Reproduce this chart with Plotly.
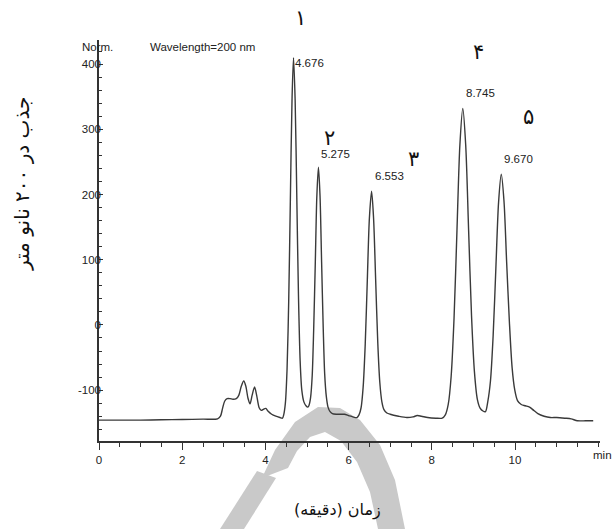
import plotly.graph_objects as go

# ---------------- data ----------------
time_min = [
    0.0, 0.5, 1.0, 1.5, 2.0, 2.5, 2.85, 2.92, 2.97, 3.02, 3.08, 3.15, 3.22, 3.3,
    3.36, 3.42, 3.48, 3.53, 3.58, 3.63, 3.68, 3.74, 3.79, 3.85, 3.9, 3.96, 4.01,
    4.06, 4.15, 4.25, 4.35, 4.41,
    4.44, 4.48, 4.52, 4.56, 4.60, 4.64, 4.676, 4.715, 4.755, 4.795, 4.835, 4.875,
    4.925, 4.975, 5.02, 5.045, 5.085, 5.125, 5.16, 5.2, 5.237, 5.275, 5.313,
    5.351, 5.39, 5.425, 5.465, 5.505, 5.555, 5.61, 5.7, 5.8, 5.9, 6.0, 6.1, 6.2,
    6.25, 6.3, 6.35, 6.4, 6.45, 6.5, 6.553, 6.6, 6.65, 6.7, 6.75, 6.8, 6.85,
    6.92, 7.0, 7.2, 7.4, 7.55, 7.65, 7.75, 7.9, 8.1, 8.25,
    8.325, 8.395, 8.465, 8.535, 8.605, 8.675, 8.745, 8.815, 8.885, 8.955, 9.025,
    9.095, 9.165, 9.23, 9.29,
    9.345, 9.41, 9.475, 9.54, 9.605, 9.67, 9.735, 9.8, 9.865, 9.93, 9.995, 10.06,
    10.15, 10.25, 10.35, 10.45, 10.55, 10.7, 10.85, 11.0, 11.2, 11.35, 11.5,
    11.7, 11.88,
]
absorbance = [
    -146, -146, -146, -145.5, -145, -144.5, -144, -140, -128, -117, -113, -113,
    -114, -113, -108, -94, -86, -94, -112, -121, -108, -95, -108, -127, -131,
    -129, -128, -132, -137, -140, -142, -143,
    -138, -120, -69, 36, 192, 345, 410, 345, 195, 45, -55, -100,
    -118, -124, -126, -124, -112, -78, -8, 97, 198, 242, 198,
    97, -5, -75, -110, -126, -133, -136, -137, -137, -137, -139, -141, -142,
    -138, -127, -95, -29, 69, 164, 205, 164, 70, -25, -88, -118, -130,
    -135, -137, -140, -142, -141, -139, -140, -142, -143, -143,
    -138, -122, -79, 11, 145, 276, 332, 276, 145, 14, -72,
    -114, -128, -132, -133,
    -118, -86, -16, 87, 188, 231, 190, 95, 5, -65, -100, -116,
    -122, -124, -126, -131, -136, -140, -142, -142, -143, -144, -147,
    -147, -147,
]

peak_times = [4.676, 5.275, 6.553, 8.745, 9.670]
peak_values = [410, 242, 205, 332, 231]
peak_labels = ["4.676", "5.275", "6.553", "8.745", "9.670"]
peak_numbers = ["۱", "۲", "۳", "۴", "۵"]

x_tick_vals = [0, 2, 4, 6, 8, 10]
y_tick_vals = [-100, 0, 100, 200, 300, 400]
y_tick_text = ["-100", "0", "100", "200", "300", "400"]

# ---------------- layout geometry (pixels) ----------------
W, H = 614, 529
L, R, T, B = 99, 14, 40, 88
PW, PH = W - L - R, H - T - B


def px(x, y):
    """pixel position -> paper coordinates"""
    return (x - L) / PW, (H - B - y) / PH


fig = go.Figure()

fig.add_trace(go.Scatter(
    x=time_min, y=absorbance, mode="lines",
    line=dict(color="#3a3a3a", width=1.4, shape="spline", smoothing=0.8),
    hoverinfo="skip", showlegend=False,
))

tick_font = dict(family="Liberation Sans, Arial, sans-serif", size=11.5, color="#222")

annotations = []
# retention-time labels
label_shift = [-5, 13, 15, 15, 15]
for t, v, lab, s in zip(peak_times, peak_values, peak_labels, label_shift):
    annotations.append(dict(
        x=t, y=v, xref="x", yref="y", text=lab, showarrow=False,
        xanchor="left", yanchor="middle", yshift=s, xshift=-1 if s < 0 else 1,
        font=tick_font,
    ))

# Persian peak numbers
num_pos = [(300, 18), (329, 138), (413, 159), (478, 52), (528, 117)]
for (nx, ny), lab in zip(num_pos, peak_numbers):
    X, Y = px(nx, ny)
    annotations.append(dict(
        x=X, y=Y, xref="paper", yref="paper", text=lab, showarrow=False,
        xanchor="center", yanchor="middle",
        font=dict(family="DejaVu Sans", size=21, color="#111"),
    ))

# header texts
for text, (tx, ty), anchor in [("Norm.", (80, 47), "left"),
                               ("Wavelength=200 nm", (148, 47), "left"),
                               ("min", (591, 455), "left")]:
    X, Y = px(tx, ty)
    annotations.append(dict(
        x=X, y=Y, xref="paper", yref="paper", text=text, showarrow=False,
        xanchor=anchor, yanchor="middle", font=tick_font,
    ))

# axis titles (Persian)
X, Y = px(337, 510)
annotations.append(dict(
    x=X, y=Y, xref="paper", yref="paper", text="زمان (دقیقه)", showarrow=False,
    xanchor="center", yanchor="middle",
    font=dict(family="DejaVu Sans", size=16, color="#111"),
))
X, Y = px(22, 184)
annotations.append(dict(
    x=X, y=Y, xref="paper", yref="paper", text="جذب در ۲۰۰ نانو متر",
    showarrow=False, textangle=-90, xanchor="center", yanchor="middle",
    font=dict(family="DejaVu Sans", size=20, color="#111"),
))

# faint watermark
def poly(points):
    pts = [px(a, b) for a, b in points]
    return "M " + " L ".join(f"{a:.4f},{b:.4f}" for a, b in pts) + " Z"

wm_i = [(220, 529), (244, 529), (276, 478), (257, 471)]
wm_d = [(262, 478), (275, 450), (295, 422), (318, 407), (340, 408), (360, 420),
        (380, 445), (395, 480), (405, 529), (378, 529), (370, 492), (357, 462),
        (341, 441), (325, 432), (310, 437), (297, 451), (288, 468)]
shapes = [
    dict(type="path", path=poly(wm_i), xref="paper", yref="paper",
         fillcolor="#c9c9c9", line=dict(width=0), layer="below"),
    dict(type="path", path=poly(wm_d), xref="paper", yref="paper",
         fillcolor="#c9c9c9", line=dict(width=0), layer="below"),
]

y0 = -178
y1 = 437
fig.update_layout(
    width=W, height=H,
    margin=dict(l=L, r=R, t=T, b=B),
    paper_bgcolor="white", plot_bgcolor="rgba(0,0,0,0)",
    annotations=annotations, shapes=shapes,
    xaxis=dict(
        range=[0, PW / 41.6], showgrid=False, zeroline=False,
        showline=True, linecolor="#333", linewidth=2,
        tickvals=x_tick_vals, ticks="outside", ticklen=7, tickcolor="#333",
        tickfont=tick_font,
        minor=dict(dtick=0.5, ticks="outside", ticklen=4, tickcolor="#333"),
    ),
    yaxis=dict(
        range=[y0, y1], showgrid=False, zeroline=False,
        showline=True, linecolor="#333", linewidth=1.5,
        tickvals=y_tick_vals, ticktext=y_tick_text, ticks="inside", ticklen=4,
        tickcolor="#333", tickfont=tick_font, ticklabelstandoff=-6,
        minor=dict(dtick=20, ticks="inside", ticklen=3, tickcolor="#333"),
    ),
)

fig.write_html("out.html", config={"displayModeBar": False},
               post_script="document.body.style.margin='0';")
